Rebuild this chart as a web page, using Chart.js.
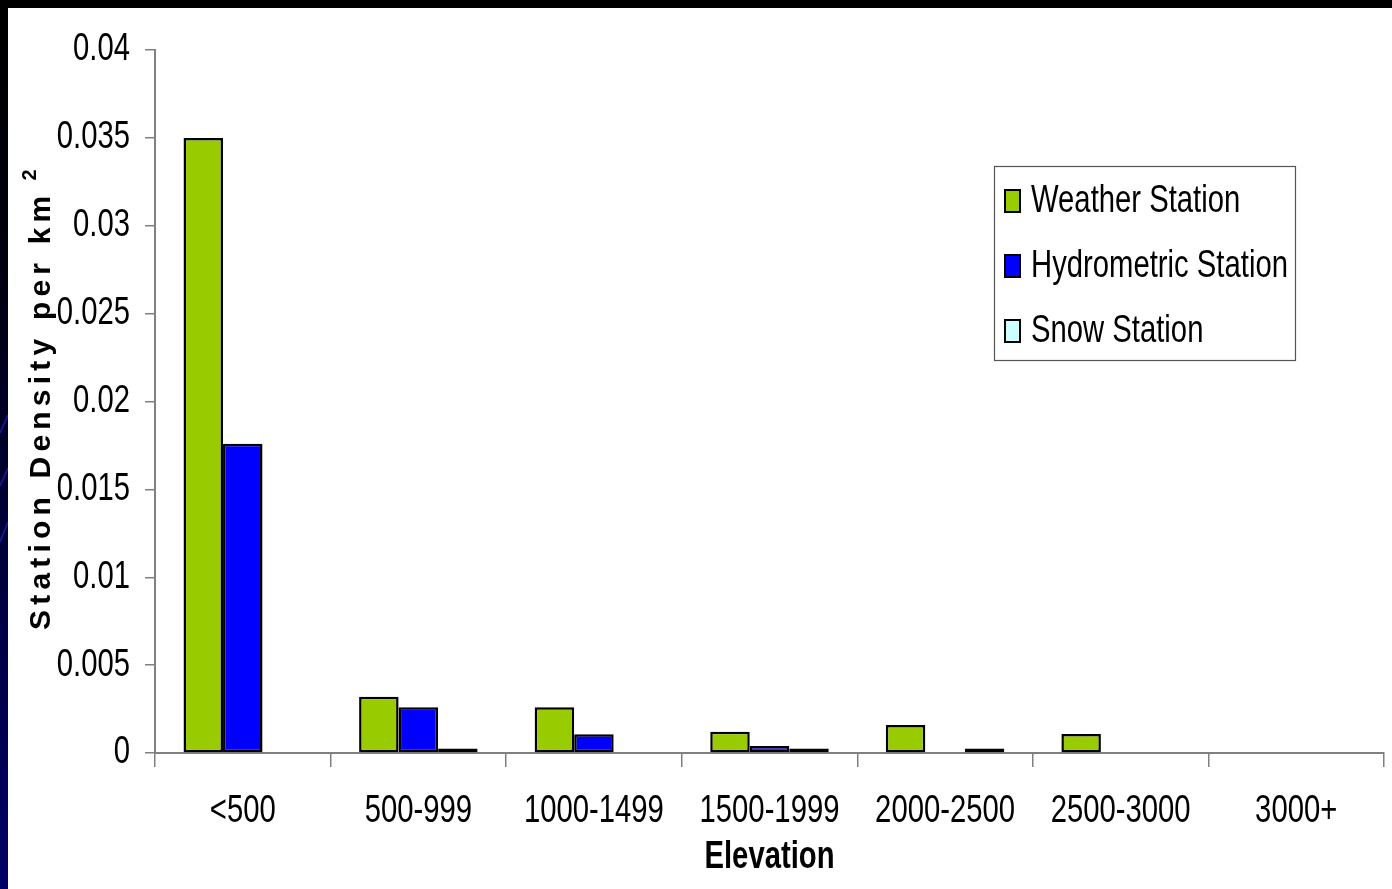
<!DOCTYPE html>
<html>
<head>
<meta charset="utf-8">
<title>Station Density by Elevation</title>
<script src="https://cdn.jsdelivr.net/npm/chart.js@4.4.1/dist/chart.umd.min.js"></script>
<style>
  html, body { margin: 0; padding: 0; background: #000; }
  body { width: 1392px; height: 889px; position: relative; overflow: hidden; }
  #strip { position: absolute; left: 0; top: 8px; width: 8px; height: 881px;
           background: linear-gradient(#000 0%, #000010 30%, #00003a 60%, #000066 100%); }
  #strip svg { position: absolute; left: 0; top: 0; }
  #panel { position: absolute; left: 8px; top: 8px; width: 1384px; height: 881px; background: #fff; }
  canvas { display: block; }
</style>
</head>
<body>
<div id="strip">
  <svg width="8" height="881" viewBox="0 0 8 881">
    <line x1="0" y1="425" x2="8" y2="407" stroke="#1a1aa8" stroke-width="1.5"/>
    <line x1="0" y1="478" x2="8" y2="460" stroke="#1a1aa8" stroke-width="1.5"/>
    <line x1="0" y1="534" x2="8" y2="514" stroke="#1a1aa8" stroke-width="1.5"/>
  </svg>
</div>
<div id="panel"><canvas id="chart" width="1384" height="881"></canvas></div>
<script>
// Elevation bands and station density (stations per km²) for each network
const categories = ['<500', '500-999', '1000-1499', '1500-1999', '2000-2500', '2500-3000', '3000+'];
const weatherStation     = [0.035,  0.0032, 0.0026,  0.00121, 0.00159, 0.00108, 0];
const hydrometricStation = [0.0176, 0.0026, 0.00106, 0.0004,  0,       0,       0];
const snowStation        = [0,      0.00025, 0,      0.00025, 0.00025, 0,       0];
const seriesNames  = ['Weather Station', 'Hydrometric Station', 'Snow Station'];
const seriesColors = ['#99CC00', '#0000FF', '#CCFFFF'];
const yTickValues  = [0, 0.005, 0.01, 0.015, 0.02, 0.025, 0.03, 0.035, 0.04];

const SANS = '"Liberation Sans", Arial, sans-serif';
const CONDENSE = 0.77;   // horizontal squeeze giving a narrow face

const canvas = document.getElementById('chart');
const ctx2d = canvas.getContext('2d');

// Draw text horizontally condensed (narrow typeface look) unless switched off
(function condenseText(ctx) {
  const fill = ctx.fillText.bind(ctx);
  const measure = ctx.measureText.bind(ctx);
  ctx.__wide = false;
  ctx.fillText = function (text, x, y, maxWidth) {
    if (ctx.__wide) return maxWidth === undefined ? fill(text, x, y) : fill(text, x, y, maxWidth);
    ctx.save();
    ctx.translate(x, y);
    ctx.scale(CONDENSE, 1);
    fill(text, 0, 0);
    ctx.restore();
  };
  ctx.measureText = function (text) {
    const m = measure(text);
    if (ctx.__wide) return m;
    return {
      width: m.width * CONDENSE,
      actualBoundingBoxLeft: m.actualBoundingBoxLeft * CONDENSE,
      actualBoundingBoxRight: m.actualBoundingBoxRight * CONDENSE,
      actualBoundingBoxAscent: m.actualBoundingBoxAscent,
      actualBoundingBoxDescent: m.actualBoundingBoxDescent,
      fontBoundingBoxAscent: m.fontBoundingBoxAscent,
      fontBoundingBoxDescent: m.fontBoundingBoxDescent
    };
  };
})(ctx2d);

// Boxed legend in the upper right of the plot
const boxLegend = {
  id: 'boxLegend',
  afterDraw(chart) {
    const ctx = chart.ctx;
    const x0 = 986, y0 = 158, w = 301, h = 194;
    ctx.save();
    ctx.fillStyle = '#fff';
    ctx.fillRect(x0, y0, w, h);
    ctx.strokeStyle = '#555';
    ctx.lineWidth = 1.2;
    ctx.strokeRect(x0 + 0.5, y0 + 0.5, w, h);
    ctx.font = '38px ' + SANS;
    ctx.textBaseline = 'middle';
    chart.data.datasets.forEach((ds, i) => {
      const cy = y0 + 35 + i * 65;
      ctx.fillStyle = ds.backgroundColor;
      ctx.fillRect(x0 + 11, cy - 11, 15, 22);
      ctx.strokeStyle = '#000';
      ctx.lineWidth = 2;
      ctx.strokeRect(x0 + 11, cy - 11, 15, 22);
      ctx.fillStyle = '#000';
      ctx.fillText(ds.label, x0 + 37, cy + 1);
    });
    ctx.restore();
  }
};

// Rotated, letter-spaced y-axis title with a superscript exponent
const yTitle = {
  id: 'yTitle',
  afterDraw(chart) {
    const ctx = chart.ctx;
    ctx.save();
    ctx.__wide = true;
    ctx.translate(32, 622);
    ctx.rotate(-Math.PI / 2);
    ctx.fillStyle = '#000';
    ctx.textBaseline = 'alphabetic';
    ctx.textAlign = 'left';
    ctx.font = 'bold 30px ' + SANS;
    ctx.letterSpacing = '5.2px';
    const main = 'Station Density per km';
    ctx.fillText(main, 0, 10);
    const wMain = ctx.measureText(main).width;
    ctx.font = 'bold 20px ' + SANS;
    ctx.letterSpacing = '0px';
    ctx.fillText('2', wMain + 10, -4);
    ctx.__wide = false;
    ctx.restore();
  }
};

const makeSet = (label, data, i) => ({
  label, data,
  backgroundColor: seriesColors[i],
  borderColor: '#000',
  borderWidth: 2.5,
  borderSkipped: false,
  categoryPercentage: 0.675,
  barPercentage: 1.0
});

new Chart(canvas, {
  type: 'bar',
  data: {
    labels: categories,
    datasets: [
      makeSet(seriesNames[0], weatherStation, 0),
      makeSet(seriesNames[1], hydrometricStation, 1),
      makeSet(seriesNames[2], snowStation, 2)
    ]
  },
  options: {
    responsive: false,
    animation: false,
    layout: { padding: { top: 42, right: 8, left: 0, bottom: 0 } },
    plugins: { legend: { display: false }, tooltip: { enabled: false } },
    scales: {
      x: {
        offset: true,
        grid: { display: true, offset: true, drawOnChartArea: false, drawTicks: true,
                tickLength: 14, color: '#808080', lineWidth: 1.5 },
        border: { display: true, color: '#808080', width: 2 },
        ticks: { color: '#000', font: { family: SANS, size: 38 }, padding: 22, maxRotation: 0,
                 autoSkip: false },
        title: { display: true, text: 'Elevation', color: '#000',
                 font: { family: SANS, size: 38, weight: 'bold' }, padding: { top: 0, bottom: 9 } },
        afterFit(scale) { scale.height = 136; }
      },
      y: {
        min: 0, max: 0.04,
        afterBuildTicks(scale) { scale.ticks = yTickValues.map(v => ({ value: v })); },
        grid: { display: true, drawOnChartArea: false, drawTicks: true,
                tickLength: 10, color: '#808080', lineWidth: 1.5 },
        border: { display: true, color: '#808080', width: 2 },
        ticks: { color: '#000', font: { family: SANS, size: 38 }, padding: 15,
                 callback: v => String(Number(v.toFixed(3))) },
        afterFit(scale) { scale.width = 147; }
      }
    }
  },
  plugins: [boxLegend, yTitle]
});
</script>
</body>
</html>
